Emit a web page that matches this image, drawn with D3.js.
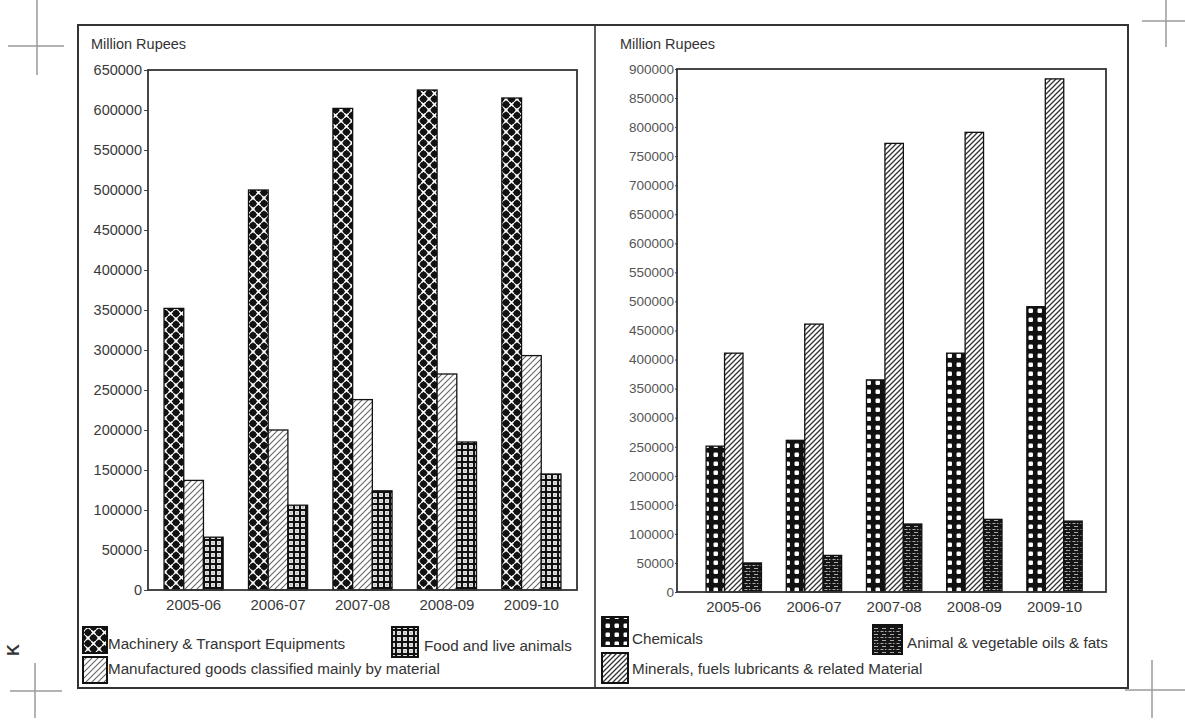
<!DOCTYPE html>
<html><head><meta charset="utf-8">
<script src="https://cdn.jsdelivr.net/npm/d3@7"></script>
<style>body{margin:0;background:#fff}svg{display:block}text{font-family:"Liberation Sans",Arial,sans-serif}</style>
</head><body><svg id="c" width="1185" height="728"></svg>
<script>
// ---------- data ----------
const categories = ["2005-06", "2006-07", "2007-08", "2008-09", "2009-10"];
const yLabel = "Million Rupees";

const leftNames = ["Machinery & Transport Equipments", "Manufactured goods classified mainly by material", "Food and live animals"];
const machinery = [352000, 500000, 602000, 625000, 615000];
const manufactured = [137000, 200000, 238000, 270000, 293000];
const food = [66000, 106000, 124000, 185000, 145000];
const leftTicks = [0, 50000, 100000, 150000, 200000, 250000, 300000, 350000, 400000, 450000, 500000, 550000, 600000, 650000];

const rightNames = ["Chemicals", "Minerals, fuels lubricants & related Material", "Animal & vegetable oils & fats"];
const chemicals = [251000, 261000, 365000, 411000, 491000];
const minerals = [411000, 461000, 772000, 791000, 883000];
const oils = [50000, 63000, 117000, 125000, 122000];
const rightTicks = [0, 50000, 100000, 150000, 200000, 250000, 300000, 350000, 400000, 450000, 500000, 550000, 600000, 650000, 700000, 750000, 800000, 850000, 900000];

// ---------- patterns ----------
const svg = d3.select("#c");
const defs = svg.append("defs");
function pat(id, w, h, build) {
  const p = defs.append("pattern").attr("id", id).attr("patternUnits", "userSpaceOnUse")
    .attr("width", w).attr("height", h);
  build(p);
}
pat("pMach", 11, 11, p => {
  p.append("rect").attr("width", 11).attr("height", 11).attr("fill", "#111");
  p.append("path").attr("d", "M0,0L11,11M11,0L0,11").attr("stroke", "#fff").attr("stroke-width", 1.6);
  [[5.5, 0], [0, 5.5], [11, 5.5], [5.5, 11]].forEach(([x, y]) =>
    p.append("circle").attr("cx", x).attr("cy", y).attr("r", 3.3).attr("fill", "#111"));
});
pat("pHatchL", 6, 6, p => {
  p.append("rect").attr("width", 6).attr("height", 6).attr("fill", "#fff");
  p.append("path").attr("d", "M0,6L6,0M-1,1L1,-1M5,7L7,5").attr("stroke", "#666").attr("stroke-width", 1.1);
});
pat("pHatchR", 5, 5, p => {
  p.append("rect").attr("width", 5).attr("height", 5).attr("fill", "#fff");
  p.append("path").attr("d", "M0,5L5,0M-1,1L1,-1M4,6L6,4").attr("stroke", "#333").attr("stroke-width", 1.3);
});
pat("pFood", 6, 6, p => {
  p.append("rect").attr("width", 6).attr("height", 6).attr("fill", "#111");
  p.append("rect").attr("x", 1.1).attr("y", 1.1).attr("width", 3.8).attr("height", 3.8).attr("fill", "#fff");
  p.append("rect").attr("x", 2.5).attr("y", 2.5).attr("width", 1).attr("height", 1).attr("fill", "#111");
});
pat("pChem", 9, 9, p => {
  p.append("rect").attr("width", 9).attr("height", 9).attr("fill", "#111");
  p.append("rect").attr("x", 2.5).attr("y", 2.5).attr("width", 4.5).attr("height", 4.5).attr("rx", 1.2).attr("fill", "#fff");
});
pat("pOil", 8, 6, p => {
  p.append("rect").attr("width", 8).attr("height", 6).attr("fill", "#151515");
  p.append("path").attr("d", "M0.5,1.5h3M5,1.5h1.5M2,4.5h4").attr("stroke", "#bbb").attr("stroke-width", 0.9);
});

// ---------- crop marks & frame ----------
const marks = svg.append("g").attr("stroke", "#9a9a9a").attr("stroke-width", 1.5);
[[37, 0, 37, 75], [8, 46, 64, 46], [1166, 0, 1166, 47], [1142, 21, 1185, 21],
 [35, 663, 35, 718], [10, 691, 62, 691], [1152, 660, 1152, 718], [1125, 690, 1185, 690]]
  .forEach(d => marks.append("line").attr("x1", d[0]).attr("y1", d[1]).attr("x2", d[2]).attr("y2", d[3]));
svg.append("text").attr("transform", "translate(19,650) rotate(-90)").attr("text-anchor", "middle")
  .attr("font-size", 16).attr("font-weight", "bold").attr("fill", "#333").text("K");

svg.append("rect").attr("x", 78).attr("y", 25).attr("width", 1050).attr("height", 663)
  .attr("fill", "none").attr("stroke", "#333").attr("stroke-width", 2);
svg.append("line").attr("x1", 595).attr("x2", 595).attr("y1", 25).attr("y2", 688)
  .attr("stroke", "#333").attr("stroke-width", 1.6);

// ---------- chart builder ----------
function drawChart(cfg) {
  const g = svg.append("g");
  const x0 = d3.scaleBand().domain(categories).range([cfg.left, cfg.right])
    .paddingInner(cfg.pi).paddingOuter(cfg.po).align(cfg.align);
  const x1 = d3.scaleBand().domain(cfg.series.map(s => s.name)).range([0, x0.bandwidth()]);
  const y = d3.scaleLinear().domain([0, cfg.max]).range([cfg.bottom, cfg.top]);

  const yAxis = g.append("g").attr("transform", `translate(${cfg.left},0)`)
    .call(d3.axisLeft(y).tickValues(cfg.ticks).tickFormat(d3.format("d")).tickSize(cfg.tickSize).tickPadding(cfg.tickPad));
  yAxis.select(".domain").remove();
  yAxis.selectAll("line").attr("stroke", "#444");
  yAxis.selectAll("text").attr("font-size", cfg.tickFont).attr("fill", cfg.tickColor)
    .attr("font-family", '"Liberation Sans",Arial,sans-serif');

  const xAxis = g.append("g").attr("transform", `translate(0,${cfg.bottom})`)
    .call(d3.axisBottom(x0).tickSize(0).tickPadding(cfg.xPad));
  xAxis.select(".domain").remove();
  xAxis.selectAll("text").attr("font-size", 15).attr("fill", "#3a3a3a")
    .attr("font-family", '"Liberation Sans",Arial,sans-serif');

  cfg.series.forEach(s => {
    g.append("g").selectAll("rect").data(s.values).join("rect")
      .attr("x", (d, i) => x0(categories[i]) + x1(s.name))
      .attr("y", d => y(d))
      .attr("width", x1.bandwidth())
      .attr("height", d => y(0) - y(d))
      .attr("fill", `url(#${s.pattern})`)
      .attr("stroke", "#111").attr("stroke-width", 1.3);
  });

  g.append("rect").attr("x", cfg.left).attr("y", cfg.top)
    .attr("width", cfg.right - cfg.left).attr("height", cfg.bottom - cfg.top)
    .attr("fill", "none").attr("stroke", "#333").attr("stroke-width", 1.8);

  g.append("text").attr("x", cfg.labelX).attr("y", 44).attr("dominant-baseline", "central")
    .attr("font-size", 14.5).attr("fill", "#333").text(yLabel);

  cfg.legend.forEach(l => {
    g.append("rect").attr("x", l.bx).attr("y", l.by).attr("width", l.bw).attr("height", l.bh)
      .attr("fill", `url(#${l.pattern})`).attr("stroke", "#111").attr("stroke-width", 2);
    g.append("text").attr("x", l.tx).attr("y", l.ty).attr("dominant-baseline", "central")
      .attr("font-size", 15.2).attr("fill", "#333").text(l.name);
  });
}

drawChart({
  left: 148, right: 577, top: 70, bottom: 590, max: 650000, ticks: leftTicks,
  pi: 0.3, po: 0.19, align: 0.5, tickSize: 4, tickPad: 2, tickFont: 14.5, tickColor: "#3a3a3a", xPad: 9,
  labelX: 91,
  series: [
    { name: leftNames[0], values: machinery, pattern: "pMach" },
    { name: leftNames[1], values: manufactured, pattern: "pHatchL" },
    { name: leftNames[2], values: food, pattern: "pFood" }
  ],
  legend: [
    { name: leftNames[0], pattern: "pMach", bx: 83, by: 627, bw: 24, bh: 26, tx: 108, ty: 643 },
    { name: leftNames[2], pattern: "pFood", bx: 392, by: 627, bw: 26, bh: 30, tx: 424, ty: 645 },
    { name: leftNames[1], pattern: "pHatchL", bx: 83, by: 657, bw: 24, bh: 26, tx: 108, ty: 668 }
  ]
});

drawChart({
  left: 677, right: 1106, top: 69, bottom: 592, max: 900000, ticks: rightTicks,
  pi: 0.31, po: 0.33, align: 0.55, tickSize: 2, tickPad: 1, tickFont: 13.5, tickColor: "#555", xPad: 9,
  labelX: 620,
  series: [
    { name: rightNames[0], values: chemicals, pattern: "pChem" },
    { name: rightNames[1], values: minerals, pattern: "pHatchR" },
    { name: rightNames[2], values: oils, pattern: "pOil" }
  ],
  legend: [
    { name: rightNames[0], pattern: "pChem", bx: 602, by: 617, bw: 26, bh: 29, tx: 632, ty: 638 },
    { name: rightNames[2], pattern: "pOil", bx: 873, by: 625, bw: 29, bh: 29, tx: 907, ty: 642 },
    { name: rightNames[1], pattern: "pHatchR", bx: 602, by: 653, bw: 26, bh: 30, tx: 632, ty: 668 }
  ]
});
</script></body></html>
